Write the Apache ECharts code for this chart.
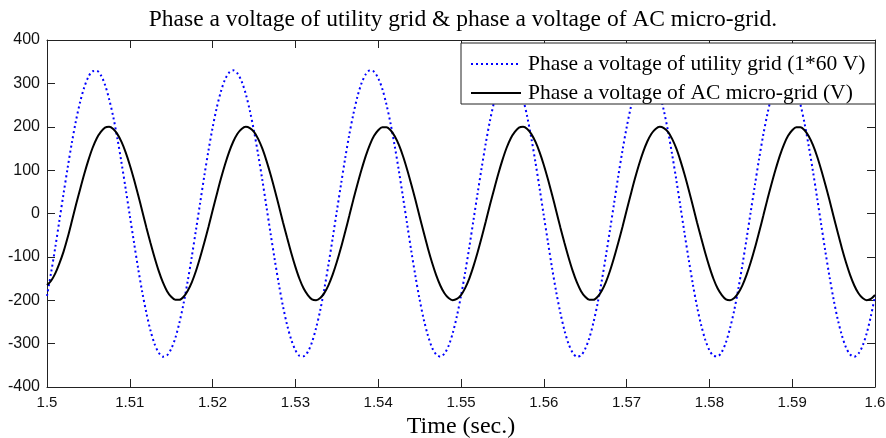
<!DOCTYPE html>
<html>
<head>
<meta charset="utf-8">
<script src="https://cdn.jsdelivr.net/npm/echarts@6/dist/echarts.min.js"></script>
<style>html,body{margin:0;padding:0;background:#fff;}#c{width:886px;height:438px;}</style>
</head>
<body>
<div id="c"></div>
<script>
// Sampling instants (s), every 0.5 ms from 1.5 to 1.6
const time = Array.from({length: 201}, (_, i) => +(1.5 + i * 0.0005).toFixed(4));

// Phase a voltage of utility grid (1*60 V)
const utilityGrid = [
  -190, -136, -78, -16, 46, 106, 163, 214, 257, 291, 315, 328, 329, 319, 297, 264, 223, 173, 117, 57,
  -5, -66, -126, -181, -229, -270, -301, -321, -330, -327, -312, -287, -251, -207, -155, -98, -37, 25, 87, 145,
  198, 244, 281, 309, 325, 330, 323, 305, 276, 237,
  190, 136, 78, 16, -46, -106, -163, -214, -257, -291, -315, -328, -329, -319, -297, -264, -223, -173, -117, -57,
  5, 66, 126, 181, 229, 270, 301, 321, 330, 327, 312, 287, 251, 207, 155, 98, 37, -25, -87, -145,
  -198, -244, -281, -309, -325, -330, -323, -305, -276, -237,
  -190, -136, -78, -16, 46, 106, 163, 214, 257, 291, 315, 328, 329, 319, 297, 264, 223, 173, 117, 57,
  -5, -66, -126, -181, -229, -270, -301, -321, -330, -327, -312, -287, -251, -207, -155, -98, -37, 25, 87, 145,
  198, 244, 281, 309, 325, 330, 323, 305, 276, 237,
  190, 136, 78, 16, -46, -106, -163, -214, -257, -291, -315, -328, -329, -319, -297, -264, -223, -173, -117, -57,
  5, 66, 126, 181, 229, 270, 301, 321, 330, 327, 312, 287, 251, 207, 155, 98, 37, -25, -87, -145,
  -198, -244, -281, -309, -325, -330, -323, -305, -276, -237,
  -190
];

// Phase a voltage of AC micro-grid (V)
const microGrid = [
  -165, -155, -138, -115, -88, -55, -18, 20, 56, 91, 123, 151, 173, 188, 198, 200, 195, 183, 165, 141,
  112, 79, 43, 6, -32, -68, -102, -133, -159, -179, -192, -199, -199, -192, -178, -158, -132, -101, -67, -31,
  7, 44, 80, 113, 142, 166, 184, 195, 200, 197,
  188, 172, 150, 122, 90, 55, 18, -20, -56, -91, -123, -151, -173, -188, -198, -200, -195, -183, -165, -141,
  -112, -79, -43, -6, 32, 68, 102, 133, 159, 179, 192, 199, 199, 192, 178, 158, 132, 101, 67, 31,
  -7, -44, -80, -113, -142, -166, -184, -195, -200, -197,
  -188, -172, -150, -122, -90, -55, -18, 20, 56, 91, 123, 151, 173, 188, 198, 200, 195, 183, 165, 141,
  112, 79, 43, 6, -32, -68, -102, -133, -159, -179, -192, -199, -199, -192, -178, -158, -132, -101, -67, -31,
  7, 44, 80, 113, 142, 166, 184, 195, 200, 197,
  188, 172, 150, 122, 90, 55, 18, -20, -56, -91, -123, -151, -173, -188, -198, -200, -195, -183, -165, -141,
  -112, -79, -43, -6, 32, 68, 102, 133, 159, 179, 192, 199, 199, 192, 178, 158, 132, 101, 67, 31,
  -7, -44, -80, -113, -142, -166, -184, -195, -200, -197,
  -188
];

const titleText = 'Phase a voltage of utility grid & phase a voltage of AC micro-grid.';
const seriesNames = ['Phase a voltage of utility grid (1*60 V)', 'Phase a voltage of AC micro-grid (V)'];
const xAxisName = 'Time (sec.)';
const xMin = 1.5, xMax = 1.6, xStep = 0.01;
const yMin = -400, yMax = 400, yStep = 100;

const chart = echarts.init(document.getElementById('c'), null, {renderer: 'canvas'});
const axisColor = '#222';
const sans = 'Liberation Sans, Arial, sans-serif';
const serif = 'Liberation Serif, Times New Roman, serif';

function pairs(ys) { return time.map((t, i) => [t, ys[i]]); }

chart.setOption({
  animation: false,
  backgroundColor: '#fff',
  title: {
    text: titleText,
    left: 458, top: 3, textAlign: 'center',
    textStyle: {fontFamily: serif, fontSize: 23.5, fontWeight: 'normal', color: '#000'}
  },
  grid: {left: 47, right: 11, top: 40, bottom: 51, containLabel: false, outerBoundsMode: 'none'},
  legend: {
    orient: 'vertical',
    left: 461, top: 43,
    padding: [10, 10, 0, 9],
    itemWidth: 50, itemHeight: 26, itemGap: 7,
    backgroundColor: '#fff',
    borderColor: '#222', borderWidth: 1,
    itemStyle: {color: 'transparent', borderColor: 'transparent', borderWidth: 0, opacity: 0},
    textStyle: {fontFamily: serif, fontSize: 21.5, color: '#000', padding: [0, 0, 0, 2]},
    data: seriesNames
  },
  xAxis: [{
    type: 'value', min: xMin, max: xMax, interval: xStep,
    name: xAxisName, nameLocation: 'middle', nameGap: 26,
    nameTextStyle: {fontFamily: serif, fontSize: 24, color: '#000'},
    axisLine: {show: true, onZero: false, lineStyle: {color: axisColor, width: 1}},
    axisTick: {show: true, inside: true, length: 8, lineStyle: {color: axisColor}},
    axisLabel: {margin: 8, fontFamily: sans, fontSize: 15, color: '#111', formatter: v => String(+v.toFixed(2))},
    splitLine: {show: false}
  }, {
    type: 'value', min: xMin, max: xMax, interval: xStep, position: 'top',
    axisLine: {show: true, onZero: false, lineStyle: {color: axisColor, width: 1}},
    axisTick: {show: true, inside: true, length: 8, lineStyle: {color: axisColor}},
    axisLabel: {show: false}, splitLine: {show: false}
  }],
  yAxis: [{
    type: 'value', min: yMin, max: yMax, interval: yStep,
    axisLine: {show: true, onZero: false, lineStyle: {color: axisColor, width: 1}},
    axisTick: {show: true, inside: true, length: 8, lineStyle: {color: axisColor}},
    axisLabel: {margin: 7, fontFamily: sans, fontSize: 16, color: '#111'},
    splitLine: {show: false}
  }, {
    type: 'value', min: yMin, max: yMax, interval: yStep, position: 'right',
    axisLine: {show: true, onZero: false, lineStyle: {color: axisColor, width: 1}},
    axisTick: {show: true, inside: true, length: 8, lineStyle: {color: axisColor}},
    axisLabel: {show: false}, splitLine: {show: false}
  }],
  series: [{
    name: seriesNames[0], type: 'line', xAxisIndex: 0, yAxisIndex: 0,
    data: pairs(utilityGrid), showSymbol: false, symbol: 'none', smooth: 0.3,
    color: '#0000ff',
    lineStyle: {color: '#0000ff', width: 2, type: [2, 3]}
  }, {
    name: seriesNames[1], type: 'line', xAxisIndex: 0, yAxisIndex: 0,
    data: pairs(microGrid), showSymbol: false, symbol: 'none', smooth: 0.3,
    color: '#000',
    lineStyle: {color: '#000', width: 2}
  }]
});
</script>
</body>
</html>
